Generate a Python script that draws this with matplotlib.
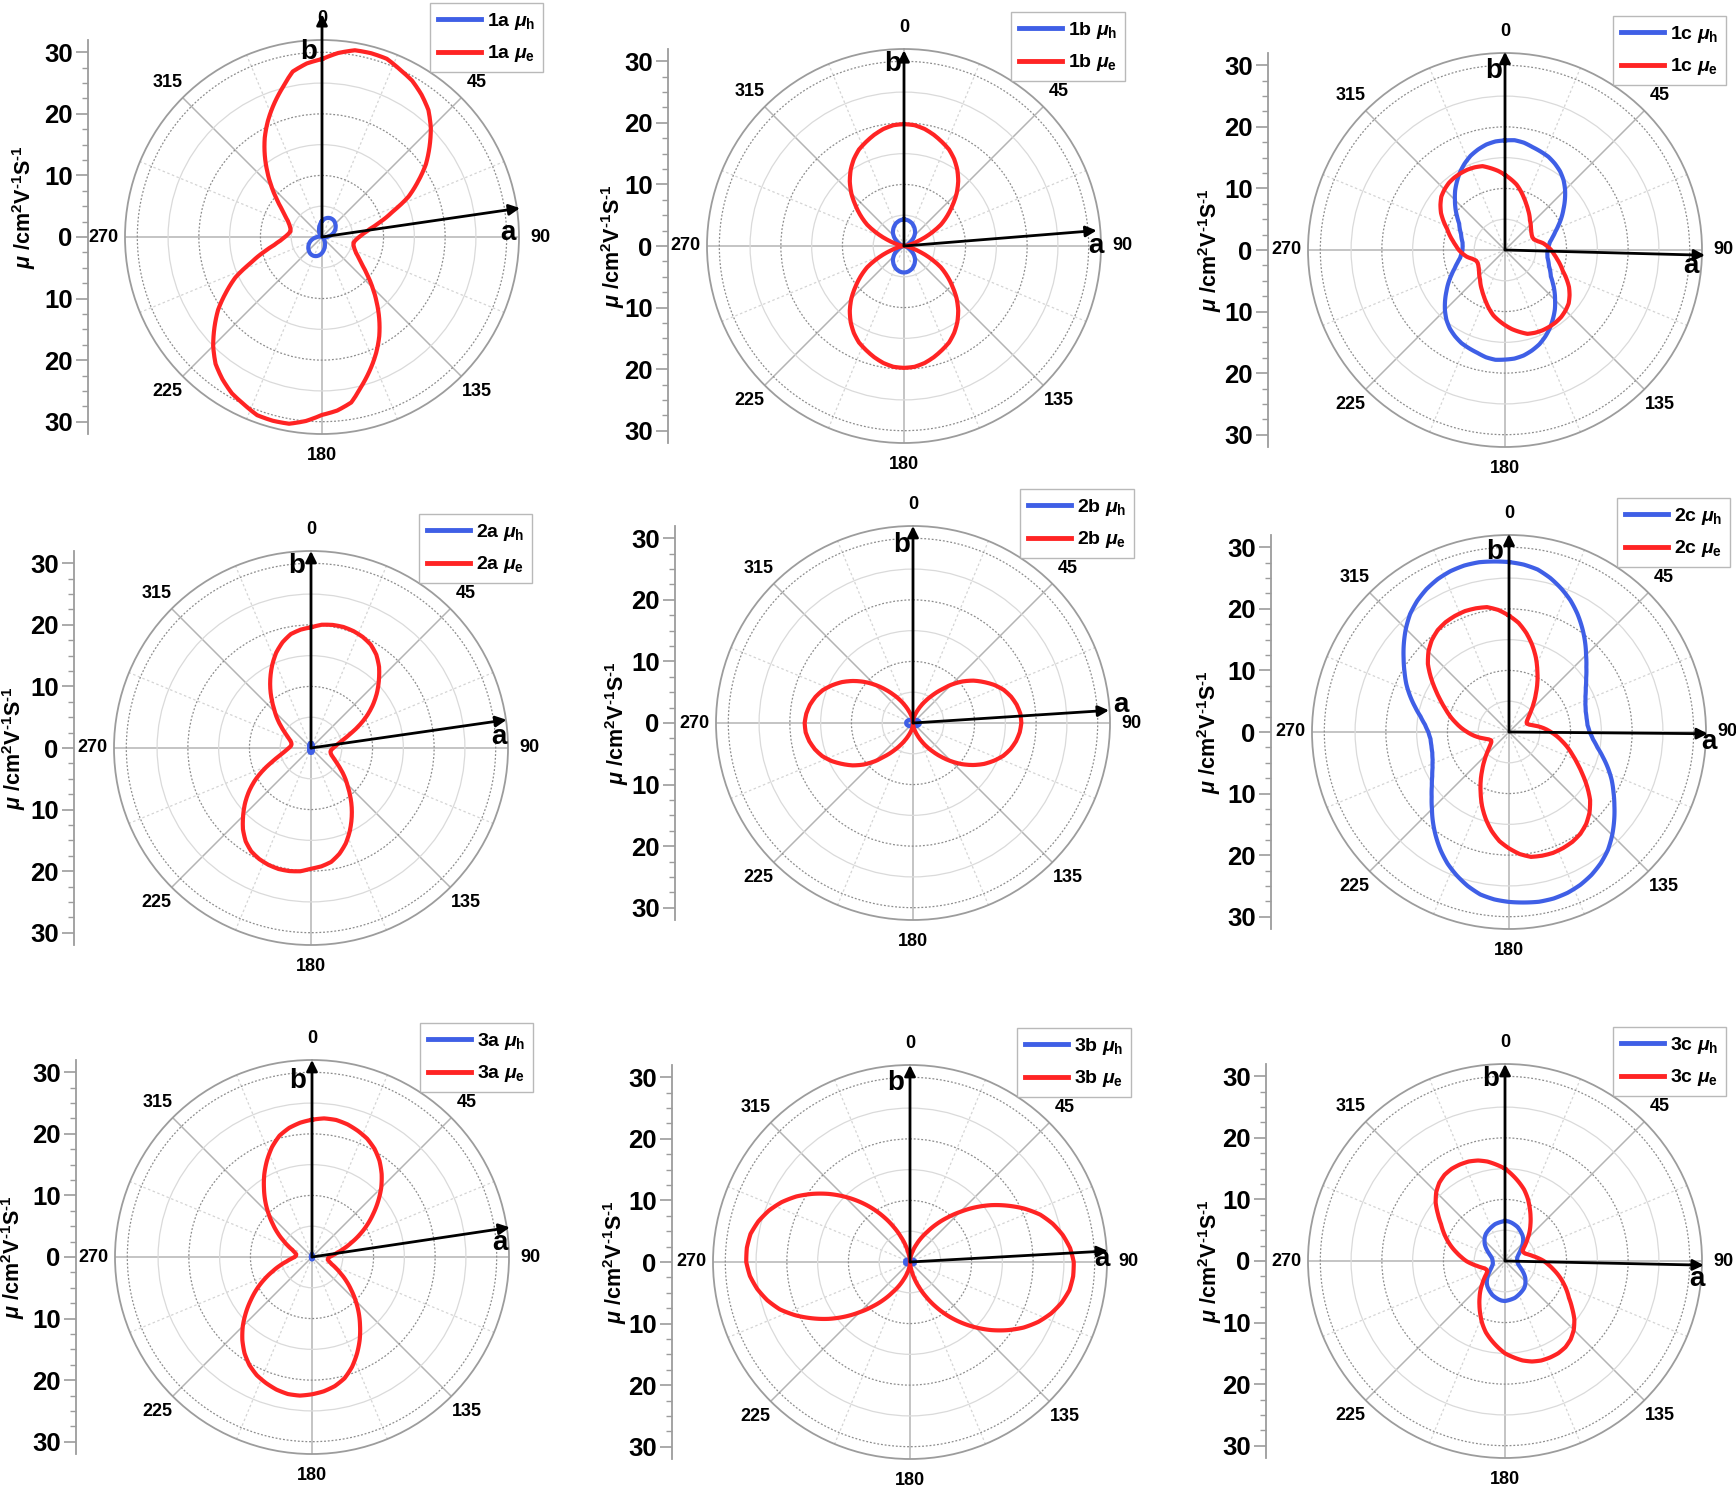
import numpy as np
import matplotlib
matplotlib.use("Agg")
import matplotlib.pyplot as plt
from matplotlib.lines import Line2D
from matplotlib.ticker import MultipleLocator

plt.rcParams.update({
    'font.family': ['Liberation Sans', 'DejaVu Sans'],
    'font.weight': 'bold',
    'mathtext.fontset': 'custom',
    'mathtext.rm': 'Liberation Sans:bold',
    'mathtext.it': 'Liberation Sans:italic:bold',
    'mathtext.bf': 'Liberation Sans:bold',
})

# angle (deg, 0 = b axis, clockwise) of the tabulated radii; the curves are
# centro-symmetric, so the 180-360 half repeats these values
angles = np.arange(0, 180, 5)

mu_h_1a = [2.6, 2.85, 3.05, 3.2, 3.3, 3.35, 3.35, 3.3, 3.2, 3.05, 2.9, 2.7,
           2.5, 2.25, 2.0, 1.7, 1.4, 1.1, 0.8, 0.55, 0.35, 0.2, 0.12, 0.1,
           0.1, 0.12, 0.2, 0.3, 0.45, 0.65, 0.9, 1.15, 1.4, 1.7, 2.0, 2.3]
mu_e_1a = [28.9, 30.0, 30.8, 30.9, 30.8, 30.0, 29.3, 28.2, 26.9, 25.0, 22.8, 20.6,
           18.0, 15.5, 12.3, 10.0, 8.0, 6.8, 6.0, 5.5, 5.2, 5.3, 5.6, 6.1,
           6.9, 8.0, 9.6, 11.6, 13.8, 16.2, 18.6, 20.8, 22.9, 25.0, 27.3, 28.3]
mu_h_1b = [4.3, 4.28, 4.2, 4.05, 3.9, 3.65, 3.4, 3.1, 2.8, 2.4, 2.0, 1.6,
           1.2, 0.85, 0.6, 0.35, 0.2, 0.12, 0.1, 0.12, 0.2, 0.35, 0.6, 0.85,
           1.2, 1.6, 2.0, 2.4, 2.8, 3.1, 3.4, 3.65, 3.9, 4.05, 4.2, 4.28]
mu_e_1b = [19.8, 19.7, 19.3, 18.7, 18.0, 17.3, 16.3, 15.1, 13.7, 12.1, 10.3, 8.6,
           6.9, 4.7, 2.7, 1.3, 0.6, 0.2, 0.1, 0.2, 0.6, 1.3, 2.7, 4.7,
           6.9, 8.6, 10.3, 12.1, 13.7, 15.1, 16.3, 17.3, 18.0, 18.7, 19.3, 19.7]
mu_h_1c = [17.8, 17.9, 17.7, 17.3, 17.0, 16.7, 16.2, 15.6, 14.8, 13.8, 12.7, 11.6,
           10.6, 9.6, 8.7, 8.0, 7.4, 7.1, 6.9, 6.9, 7.0, 7.3, 7.6, 8.1,
           8.6, 9.5, 10.5, 11.5, 12.6, 13.6, 14.6, 15.5, 16.3, 16.9, 17.4, 17.7]
mu_e_1c = [12.2, 11.5, 10.8, 9.9, 9.0, 8.2, 7.5, 6.9, 6.3, 5.9, 5.5, 5.2,
           5.0, 4.9, 5.0, 5.5, 6.3, 6.9, 7.5, 8.0, 8.6, 9.3, 10.0, 11.0,
           12.0, 12.8, 13.5, 13.9, 14.2, 14.35, 14.4, 14.4, 14.3, 14.1, 13.5, 12.9]
mu_h_2a = [0.8, 0.8, 0.78, 0.75, 0.7, 0.65, 0.6, 0.55, 0.5, 0.45, 0.4, 0.35,
           0.3, 0.25, 0.2, 0.2, 0.2, 0.2, 0.2, 0.2, 0.2, 0.2, 0.2, 0.25,
           0.3, 0.35, 0.4, 0.45, 0.5, 0.55, 0.6, 0.65, 0.7, 0.75, 0.78, 0.8]
mu_e_2a = [19.6, 20.1, 20.3, 20.35, 20.2, 19.9, 19.4, 18.5, 17.2, 15.6, 14.0, 12.3,
           10.5, 8.6, 6.8, 5.5, 4.6, 4.0, 3.6, 3.3, 3.2, 3.3, 3.6, 4.1,
           4.8, 5.8, 7.0, 8.3, 9.8, 11.5, 13.2, 14.9, 16.5, 17.8, 18.8, 19.3]
mu_h_2b = [0.1, 0.15, 0.2, 0.25, 0.3, 0.4, 0.5, 0.55, 0.6, 0.7, 0.8, 0.85,
           0.9, 0.95, 1.0, 1.05, 1.1, 1.1, 1.1, 1.1, 1.1, 1.05, 1.0, 0.95,
           0.9, 0.85, 0.8, 0.7, 0.6, 0.55, 0.5, 0.4, 0.3, 0.25, 0.2, 0.15]
mu_e_2b = [0.3, 0.6, 1.0, 1.5, 2.2, 3.1, 4.2, 5.5, 7.0, 8.8, 10.5, 12.0,
           13.3, 14.6, 15.7, 16.5, 17.1, 17.5, 17.6, 17.4, 17.0, 16.4, 15.6, 14.5,
           13.3, 11.9, 10.4, 8.8, 7.2, 5.7, 4.4, 3.2, 2.2, 1.4, 0.9, 0.5]
mu_h_2c = [27.6, 27.3, 26.8, 25.9, 24.8, 23.6, 22.2, 20.7, 19.2, 17.7, 16.4, 15.3,
           14.4, 13.7, 13.2, 12.9, 12.8, 12.8, 13.1, 13.7, 14.6, 15.8, 17.1, 18.4,
           19.6, 20.9, 22.3, 23.7, 25.0, 26.0, 26.8, 27.4, 27.8, 28.0, 28.0, 27.8]
mu_e_2c = [18.9, 17.8, 16.3, 14.6, 12.8, 10.9, 9.2, 7.6, 6.3, 5.2, 4.3, 3.7,
           3.3, 3.2, 3.5, 4.1, 5.0, 5.9, 6.8, 7.8, 8.8, 9.9, 11.0, 12.3,
           13.8, 15.5, 17.2, 18.5, 19.5, 20.2, 20.6, 20.8, 20.9, 20.8, 20.6, 19.9]
mu_h_3a = [0.4, 0.4, 0.4, 0.38, 0.35, 0.33, 0.3, 0.28, 0.25, 0.23, 0.2, 0.2,
           0.2, 0.2, 0.2, 0.2, 0.2, 0.2, 0.2, 0.2, 0.2, 0.2, 0.2, 0.2,
           0.2, 0.2, 0.2, 0.23, 0.25, 0.28, 0.3, 0.33, 0.35, 0.38, 0.4, 0.4]
mu_e_3a = [22.3, 22.6, 22.6, 22.3, 21.8, 21.2, 20.3, 19.1, 17.6, 15.9, 14.0, 12.1,
           10.3, 8.5, 6.8, 5.4, 4.2, 3.4, 2.8, 2.6, 2.6, 2.9, 3.4, 4.3,
           5.4, 6.8, 8.3, 10.0, 11.8, 13.6, 15.5, 17.3, 19.0, 20.4, 21.3, 21.9]
mu_h_3b = [0.1, 0.15, 0.2, 0.25, 0.3, 0.35, 0.4, 0.45, 0.5, 0.55, 0.6, 0.65,
           0.7, 0.75, 0.8, 0.8, 0.8, 0.8, 0.8, 0.8, 0.8, 0.8, 0.8, 0.75,
           0.7, 0.65, 0.6, 0.55, 0.5, 0.45, 0.4, 0.35, 0.3, 0.25, 0.2, 0.15]
mu_e_3b = [0.2, 0.6, 1.2, 2.0, 3.0, 4.3, 5.7, 7.5, 9.4, 11.5, 13.8, 16.1,
           18.3, 20.5, 22.5, 24.0, 25.2, 26.1, 26.6, 26.6, 26.3, 25.5, 24.4, 23.0,
           21.3, 19.3, 17.2, 15.0, 12.8, 10.6, 8.4, 6.3, 4.4, 2.8, 1.4, 0.6]
mu_h_3c = [6.5, 6.45, 6.3, 6.1, 5.9, 5.6, 5.3, 5.0, 4.6, 4.1, 3.6, 3.1,
           2.7, 2.4, 2.2, 2.05, 2.0, 2.0, 2.0, 2.05, 2.1, 2.25, 2.5, 2.85,
           3.3, 3.8, 4.3, 4.7, 5.1, 5.4, 5.6, 5.8, 6.0, 6.2, 6.3, 6.4]
mu_e_3c = [15.0, 14.0, 13.0, 12.0, 10.8, 9.5, 8.3, 7.2, 6.2, 5.2, 4.4, 3.7,
           3.3, 3.3, 3.5, 4.0, 4.6, 5.4, 6.3, 7.1, 8.0, 9.0, 10.0, 11.0,
           12.0, 13.3, 14.7, 15.8, 16.6, 17.1, 17.3, 17.3, 17.2, 16.9, 16.4, 15.7]

names = ['1a', '1b', '1c', '2a', '2b', '2c', '3a', '3b', '3c']
mu_h = [mu_h_1a, mu_h_1b, mu_h_1c, mu_h_2a, mu_h_2b, mu_h_2c, mu_h_3a, mu_h_3b, mu_h_3c]
mu_e = [mu_e_1a, mu_e_1b, mu_e_1c, mu_e_2a, mu_e_2b, mu_e_2c, mu_e_3a, mu_e_3b, mu_e_3c]

# crystal axis a: direction (deg) and length; b axis length (along 0 deg)
a_dir = [81.7, 85.4, 91.5, 81.8, 86.3, 90.5, 81.5, 86.8, 91.2]
a_len = [32.5, 31.4, 32.5, 32.1, 31.9, 32.3, 32.5, 32.2, 32.3]
b_len = [36.2, 31.8, 32.2, 32.0, 32.0, 32.2, 32.0, 32.0, 32.0]

# ---- layout (pixels in the 1736x1490 canvas) ----
W, H = 1736, 1490
R = 197          # radius of the polar frame in px
RMAX = 32
centers = [(322, 237), (904, 246), (1505, 250),
           (311, 748), (913, 723), (1509, 732),
           (312, 1257), (910, 1262), (1505, 1261)]
left_x = [88, 668, 1268, 74, 675, 1271, 76, 672, 1266]
label_dx = [-64, -55, -58, -60, -58, -62, -63, -57, -56]
label_dy = [-30, 0, 0, 0, 0, 0, 0, 0, 0]
a_lab = [(30.2, 0.6), (31.1, 0.0), (30.2, -2.6), (30.5, 1.8), (33.8, 3.0),
         (32.4, -1.6), (30.6, 2.3), (31.1, 0.5), (31.1, -2.9)]
b_lab = [(-2.1, 30.1), (-1.8, 29.5), (-1.8, 29.0), (-2.4, 29.6), (-1.8, 28.9),
         (-2.3, 29.2), (-2.3, 28.6), (-2.4, 29.1), (-2.4, 29.6)]

RED = '#ff2424'
BLUE = '#3f5fe6'
GRID_DARK = '#8c8c8c'
GRID_LIGHT = '#dadada'
FRAME = '#9c9c9c'

fig = plt.figure(figsize=(W / 100, H / 100), dpi=100)

theta = np.deg2rad(np.concatenate([angles, angles + 180, [360]]))

for i, name in enumerate(names):
    cx, cy = centers[i]
    ax = fig.add_axes([(cx - R) / W, 1 - (cy + R) / H, 2 * R / W, 2 * R / H],
                      projection='polar')
    ax.set_theta_zero_location('N')
    ax.set_theta_direction(-1)

    for vals, col in [(mu_h[i], BLUE), (mu_e[i], RED)]:
        r = np.concatenate([vals, vals, vals[:1]])
        ln, = ax.plot(theta, r, color=col, lw=3.0, solid_joinstyle='round')
        ln.get_path()._interpolation_steps = 8
    ax.set_ylim(0, RMAX)

    # grid
    ax.set_xticks(np.deg2rad(np.arange(0, 360, 22.5)))
    ax.set_xticklabels([])
    ax.set_yticks([5, 10, 15, 20, 25, 30])
    ax.set_yticklabels([])
    ax.grid(True)
    for k, gl in enumerate(ax.xaxis.get_gridlines()):
        if k % 2 == 0:
            gl.set(color='#b4b4b4', lw=1.1, ls='-')
        else:
            gl.set(color='#d4d4d4', lw=0.9, ls=(0, (2, 2)))
    for k, gl in enumerate(ax.yaxis.get_gridlines()):
        if k % 2 == 0:
            gl.set(color=GRID_LIGHT, lw=0.9, ls='-')
        else:
            gl.set(color=GRID_DARK, lw=0.9, ls=(0, (1.5, 1.5)))
    ax.tick_params(axis='x', direction='in', length=5, width=1, color=FRAME, pad=0)
    ax.tick_params(axis='y', length=0)
    ax.spines['polar'].set(color=FRAME, lw=1.3)

    # angle labels
    for deg in range(0, 360, 45):
        ax.text(np.deg2rad(deg), 35.5, str(deg), ha='center', va='center',
                fontsize=13, fontweight='bold', clip_on=False)

    # crystal axes arrows
    arrow = dict(arrowstyle='-|>', color='k', lw=2.0, mutation_scale=16,
                 shrinkA=0, shrinkB=0)
    ax.annotate('', xy=(np.deg2rad(a_dir[i]), a_len[i]), xytext=(0, 0),
                arrowprops=arrow, annotation_clip=False)
    ax.annotate('', xy=(0, b_len[i]), xytext=(0, 0),
                arrowprops=arrow, annotation_clip=False)
    for (x, y), s in [(a_lab[i], 'a'), (b_lab[i], 'b')]:
        ax.text(np.arctan2(x, y), np.hypot(x, y), s, ha='center', va='center',
                fontsize=20, fontweight='bold', clip_on=False)

    # separate linear mobility scale on the left
    axl = fig.add_axes([left_x[i] / W, 1 - (cy + R) / H, 0.0001, 2 * R / H])
    axl.set_ylim(-RMAX, RMAX)
    axl.patch.set_visible(False)
    for s in ['top', 'right', 'bottom']:
        axl.spines[s].set_visible(False)
    axl.spines['left'].set(color=FRAME, lw=1.3)
    axl.set_xticks([])
    ticks = np.arange(-30, 31, 10)
    axl.set_yticks(ticks)
    axl.set_yticklabels([str(abs(t)) for t in ticks[::-1]])
    axl.yaxis.set_minor_locator(MultipleLocator(2.5))
    axl.tick_params(axis='y', which='major', length=9, width=1.2, color=FRAME,
                    labelsize=18.5, pad=2)
    axl.tick_params(axis='y', which='minor', length=4, width=1, color=FRAME)
    fig.text((left_x[i] + label_dx[i]) / W, 1 - (cy + label_dy[i]) / H,
             r'$\mu$ /cm$^{2}$V$^{\text{-1}}$S$^{\text{-1}}$', rotation=90,
             ha='center', va='center', fontsize=15.5, fontweight='bold')

    # legend
    handles = [Line2D([], [], color=BLUE, lw=3.5), Line2D([], [], color=RED, lw=3.5)]
    labels = [name + r' $\mu_\mathregular{h}$', name + r' $\mu_\mathregular{e}$']
    leg = fig.legend(handles, labels, loc='upper right',
                     bbox_to_anchor=((cx + 221) / W, 1 - (cy - 234) / H),
                     frameon=True, fancybox=False, edgecolor='#a8a8a8',
                     fontsize=14, handlelength=2.2, borderpad=0.4,
                     labelspacing=0.6, handletextpad=0.3, borderaxespad=0)
    leg.get_frame().set_linewidth(1.0)

fig.savefig('out.png', dpi=100)
